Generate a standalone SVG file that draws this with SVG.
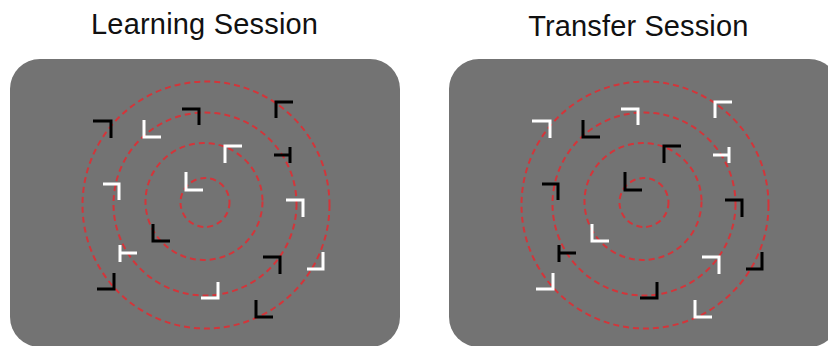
<svg xmlns="http://www.w3.org/2000/svg" width="828" height="346" viewBox="0 0 828 346">
<style>
.panel{fill:#737373}
.ring{fill:none;stroke:#d3353a;stroke-width:2;stroke-dasharray:6 4}
.b{fill:none;stroke:#000;stroke-width:3;stroke-linecap:butt;stroke-linejoin:miter}
.w{fill:none;stroke:#fff;stroke-width:3;stroke-linecap:butt;stroke-linejoin:miter}
.title{font-family:"Liberation Sans",Arial,sans-serif;font-size:29px;fill:#111;text-anchor:middle}
</style>
<rect width="828" height="346" fill="#fff"/>
<text class="title" x="204.5" y="33.5" textLength="227" lengthAdjust="spacing">Learning Session</text>
<text class="title" x="638.3" y="36" textLength="220" lengthAdjust="spacing">Transfer Session</text>

<g id="learning">
<rect class="panel" x="10" y="59" width="390" height="288" rx="30"/>
<g id="learning-rings">
<circle class="ring" cx="205" cy="202.5" r="24.5"/>
<circle class="ring" cx="204" cy="201.5" r="58.5"/>
<circle class="ring" cx="205" cy="204" r="91.5"/>
<circle class="ring" cx="206" cy="205" r="123.5"/>
</g>
<g id="learning-items">
<polyline class="b" points="93,121 111,121 111,138"/>
<polyline class="w" points="144,120 144,137 161,137"/>
<polyline class="b" points="182,109 199,109 199,125"/>
<polyline class="w" points="103,184 119,184 119,200"/>
<polyline class="w" points="186,172 186,190 203,190"/>
<polyline class="b" points="293,102 276,102 276,118"/>
<path class="b" d="M290,147V163M274,155H290"/>
<polyline class="w" points="242,146 225,146 225,163"/>
<polyline class="w" points="286,200 303,200 303,217"/>
<polyline class="w" points="323,252 323,269 307,269"/>
<polyline class="b" points="263,257 280,257 280,274"/>
<polyline class="w" points="218,282 218,298 201,298"/>
<polyline class="b" points="256,300 256,317 273,317"/>
<polyline class="b" points="153,224 153,241 170,241"/>
<path class="w" d="M120,245V262M120,253H137"/>
<polyline class="b" points="114,273 114,289 97,289"/>
</g>
</g>

<g id="transfer">
<rect class="panel" x="449" y="59" width="390" height="288" rx="30"/>
<g id="transfer-rings">
<circle class="ring" cx="644" cy="202.5" r="24.5"/>
<circle class="ring" cx="643" cy="201.5" r="58.5"/>
<circle class="ring" cx="644" cy="204" r="91.5"/>
<circle class="ring" cx="645" cy="205" r="123.5"/>
</g>
<g id="transfer-items" transform="translate(439,0)">
<polyline class="w" points="93,121 111,121 111,138"/>
<polyline class="b" points="144,120 144,137 161,137"/>
<polyline class="w" points="182,109 199,109 199,125"/>
<polyline class="b" points="103,184 119,184 119,200"/>
<polyline class="b" points="186,172 186,190 203,190"/>
<polyline class="w" points="293,102 276,102 276,118"/>
<path class="w" d="M290,147V163M274,155H290"/>
<polyline class="b" points="242,146 225,146 225,163"/>
<polyline class="b" points="286,200 303,200 303,217"/>
<polyline class="b" points="323,252 323,269 307,269"/>
<polyline class="w" points="263,257 280,257 280,274"/>
<polyline class="b" points="218,282 218,298 201,298"/>
<polyline class="w" points="256,300 256,317 273,317"/>
<polyline class="w" points="153,224 153,241 170,241"/>
<path class="b" d="M120,245V262M120,253H137"/>
<polyline class="w" points="114,273 114,289 97,289"/>
</g>
</g>
</svg>
